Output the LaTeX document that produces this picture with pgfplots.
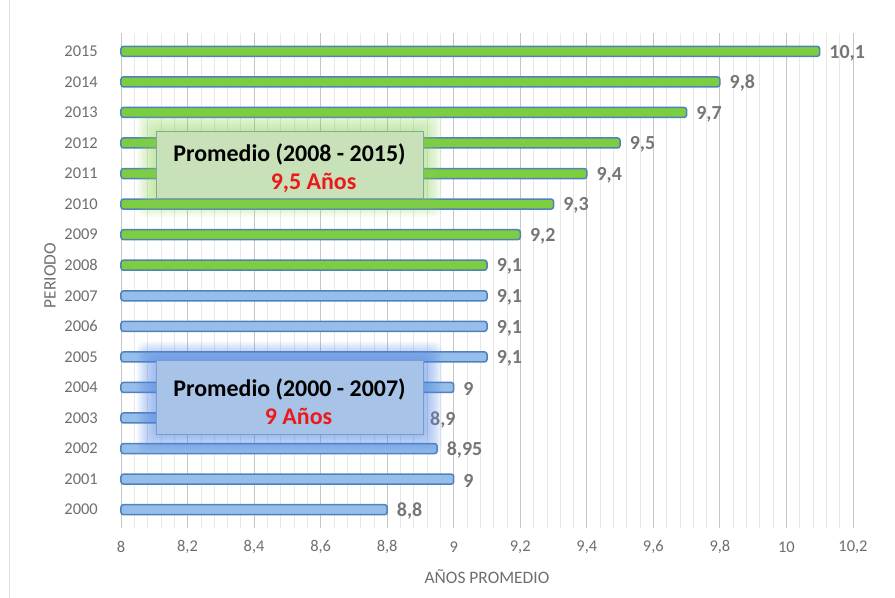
\documentclass[border=0pt]{standalone}
\usepackage{pgfplots}
\pgfplotsset{compat=1.18}
\usetikzlibrary{calc}
\usepackage{fontspec}
\setmainfont{Carlito}
\definecolor{barblue}{RGB}{79,129,189}
\definecolor{fillblue}{RGB}{150,190,235}
\definecolor{fillgreen}{RGB}{125,205,65}
\definecolor{lblgray}{RGB}{118,118,118}
\definecolor{tickgray}{RGB}{110,110,110}
\definecolor{gboxfill}{RGB}{200,225,185}
\definecolor{gboxdraw}{RGB}{130,170,150}
\definecolor{gglow}{RGB}{140,210,90}
\definecolor{bboxfill}{RGB}{168,195,232}
\definecolor{bboxdraw}{RGB}{125,155,205}
\definecolor{bglow}{RGB}{90,140,230}
\definecolor{redtxt}{RGB}{235,25,25}
\begin{document}
\begin{tikzpicture}
\path[use as bounding box] (-121bp,-70bp) rectangle (774bp,528bp);
\draw[gray!25, line width=1bp] (-111bp,-70bp) -- (-111bp,528bp);
\begin{axis}[
  scale only axis, width=732bp, height=495bp,
  xmin=8, xmax=10.2, ymin=1999.4, ymax=2015.6,
  xbar, bar width=10bp, bar shift=0pt,
  clip=false,
  axis line style={draw=none},
  xtick={8,8.2,8.4,8.6,8.8,9,9.2,9.4,9.6,9.8,10,10.2},
  minor x tick num=4,
  major tick length=0pt, minor tick length=0pt,
  xmajorgrids, xminorgrids,
  major grid style={color=gray!45, line width=0.9bp},
  minor grid style={color=gray!18, line width=0.7bp},
  ytick={2000,2001,...,2015},
  ticklabel style={font=\fontsize{16.5}{18}\selectfont, text=tickgray},
  /pgf/number format/assume math mode=true,
  x tick label style={/pgf/number format/use comma, /pgf/number format/fixed, anchor=center, yshift=-19bp},
  y tick label style={/pgf/number format/set thousands separator={}, anchor=east, inner sep=0pt, xshift=-23bp},
  xlabel={AÑOS PROMEDIO},
  ylabel={PERIODO},
  label style={font=\fontsize{17.5}{19}\selectfont, text=tickgray},
  xlabel style={at={(axis description cs:0.5,-0.099)}, anchor=center},
  ylabel style={at={(axis description cs:-0.097,0.51)}, anchor=center},
  point meta=x,
  nodes near coords={\pgfmathprintnumber[use comma,fixed,precision=2]{\pgfplotspointmeta}},
  nodes near coords style={anchor=west, inner sep=0pt, xshift=9bp, yshift=-1.5bp, font=\bfseries\fontsize{20}{22}\selectfont, text=lblgray},
]
\addplot[draw=barblue, line width=1.5bp, fill=fillblue, rounded corners=2.5bp] coordinates {
  (8.8,2000) (9,2001) (8.95,2002) (8.9,2003) (9,2004) (9.1,2005) (9.1,2006) (9.1,2007)};
\addplot[draw=barblue, line width=1.5bp, fill=fillgreen, rounded corners=2.5bp] coordinates {
  (9.1,2008) (9.2,2009) (9.3,2010) (9.4,2011) (9.5,2012) (9.7,2013) (9.8,2014) (10.1,2015)};
\coordinate (g1) at (axis cs:8.105,2010.2);
\coordinate (g2) at (axis cs:8.908,2012.39);
\coordinate (b1) at (axis cs:8.105,2002.45);
\coordinate (b2) at (axis cs:8.908,2004.87);
\end{axis}
\foreach \i in {1,...,12} {
  \fill[gglow, opacity=0.055, rounded corners=8bp] ([shift={(-\i*1.6bp,-\i*1.6bp)}]g1) rectangle ([shift={(\i*1.6bp,\i*1.6bp)}]g2);
  \fill[bglow, opacity=0.065, rounded corners=8bp] ([shift={(-\i*1.6bp,-\i*1.6bp)}]b1) rectangle ([shift={(\i*1.6bp,\i*1.6bp)}]b2);
}
\draw[gboxdraw, fill=gboxfill, line width=0.8bp] (g1) rectangle (g2);
\draw[bboxdraw, fill=bboxfill, line width=0.8bp] (b1) rectangle (b2);
\node[align=center, yshift=-4bp, font=\bfseries\fontsize{24}{28}\selectfont] at ($(g1)!0.5!(g2)$) {Promedio (2008 - 2015)\\\hspace*{48bp}\textcolor{redtxt}{9,5 Años}};
\node[align=center, yshift=-4bp, font=\bfseries\fontsize{24}{28}\selectfont] at ($(b1)!0.5!(b2)$) {Promedio (2000 - 2007)\\\hspace*{18bp}\textcolor{redtxt}{9 Años}};
\end{tikzpicture}
\end{document}
